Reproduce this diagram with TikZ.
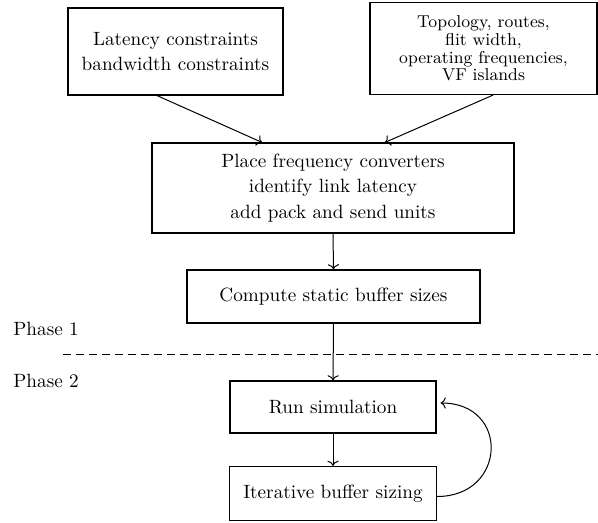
\documentclass[tikz,border=0pt]{standalone}
\usepackage{tikz}
\usetikzlibrary{calc,arrows.meta}

\begin{document}
\begin{tikzpicture}[x=0.5pt,y=-0.5pt,
        blk/.style={draw,line width=0.6pt,align=center,inner sep=0pt,font=\fontsize{9.6}{12.8}\selectfont},
        lbl/.style={anchor=west,inner sep=0pt,font=\fontsize{9.6}{12}\selectfont},
        link/.style={-{To[length=2.6pt,width=5.6pt]},line width=0.5pt}]
        \useasboundingbox (0,0) rectangle (598,523);
        \node[blk,minimum width=107.5pt,minimum height=43.5pt] (lat) at (175.5,51.5) {Latency constraints\\bandwidth constraints};
        \node[blk,minimum width=113.5pt,minimum height=46pt,font=\fontsize{8.6}{8.9}\selectfont] (topo) at (483.5,48.5) {Topology, routes,\\flit width,\\operating frequencies,\\VF islands};
        \node[blk,minimum width=181pt,minimum height=45pt] (place) at (333,188) {Place frequency converters\\identify link latency\\add pack and send units};
        \node[blk,minimum width=146.5pt,minimum height=26.5pt] (comp) at (333.5,296.5) {Compute static buffer sizes};
        \node[blk,minimum width=103pt,minimum height=26pt] (run) at (333,407) {Run simulation};
        \node[blk,minimum width=103.5pt,minimum height=27pt] (iter) at (333,493.5) {Iterative buffer sizing};
        \node[lbl] (ph1) at (13,329) {Phase 1};
        \node[lbl] (ph2) at (13,381) {Phase 2};
        \coordinate (dl) at (63,354);
        \coordinate (dr) at (598,354);
        \draw[dashed,line width=0.5pt,dash pattern=on 4pt off 2.5pt] (dl) -- (dr);
        \draw[link] ([xshift=-9.25pt]lat.south) -- ([xshift=-35.5pt]place.north);
        \draw[link] ([xshift=4.75pt]topo.south) -- ([xshift=26pt]place.north);
        \draw[link] (place.south) -- (comp.north);
        \draw[link] (comp.south) -- (run.north);
        \draw[link] (run.south) -- (iter.north);
        \draw[link] ([yshift=-1.5pt]iter.east) to[out=0,in=0,looseness=1.9] ([xshift=2pt,yshift=2pt]run.east);
    \end{tikzpicture}
\end{document}
